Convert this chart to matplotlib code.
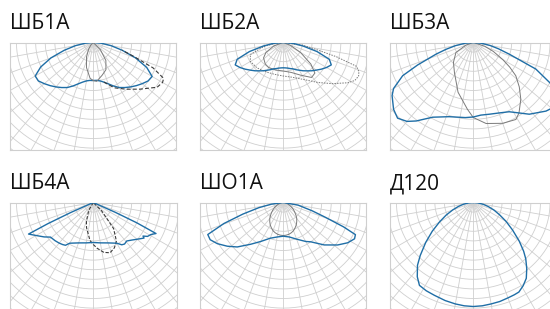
import numpy as np
import matplotlib
matplotlib.use('Agg')
import matplotlib.pyplot as plt

plt.rcParams['font.family'] = ['Open Sans', 'DejaVu Sans']

# Заголовки панелей
titles = ['ШБ1А', 'ШБ2А', 'ШБ3А', 'ШБ4А', 'ШО1А', 'Д120']

# ШБ1А
sb1_blue_ang = list(range(-90, 91, 5))
sb1_blue_r = [0, 8, 18, 30, 45, 58, 67, 67, 64, 61, 58, 55, 52, 48, 44, 41, 39, 38,
              38,
              38, 39, 41, 44, 48, 52, 55, 58, 61, 64, 67, 68, 59, 45, 30, 18, 8, 0]
sb1_gray_ang = [-50, -45, -35, -25, -15, -5, 0, 5, 15, 25, 35, 45, 52]
sb1_gray_r = [0, 3, 8, 16, 26, 36, 38, 39, 34, 30, 22, 10, 0]
sb1_dash_ang = [15, 25, 35, 45, 55, 60, 63, 67, 71, 75]
sb1_dash_r = [41, 50, 57, 66, 78, 80, 79, 65, 43, 30]

# ШБ2А
sb2_blue_ang = list(range(-90, 91, 5))
sb2_blue_r = [0, 10, 20, 35, 49, 53, 50, 46.5, 43, 40, 37, 34.5, 32, 30, 28, 27, 26, 25.5,
              25.3,
              25.5, 26, 27, 28, 30, 32, 34.5, 37, 40, 43, 46.5, 50, 53, 49, 35, 20, 10, 0]
sb2_gray_ang = [-75, -70, -60, -52, -40, -30, -15, 0, 15, 28, 39, 46, 52, 60, 68, 75]
sb2_gray_r = [0, 10, 20, 25, 28, 29, 28.5, 28.5, 31, 37, 45, 44, 35, 20, 8, 0]
sb2_dot_ang = [-90, -85, -78, -70, -60, -46, -30, -15, 0, 15, 30, 41, 50, 58, 62, 66,
               69, 72, 75, 78, 82, 90]
sb2_dot_r = [0, 8, 20, 35, 38, 36.5, 34, 33, 33.5, 36, 43, 53, 64, 76, 81, 82.5,
             81, 77, 55, 34, 20, 0]

# ШБ3А
sb3_blue_ang = [-90, -85, -80, -76, -72.6, -68, -64.8, -60, -56.8, -50, -45, -40, -36,
                -28.5, -18, -6, 0, 6, 12.6, 20, 27.4, 33, 38, 46.7, 52, 57, 62, 67,
                72, 76, 80, 85, 90]
sb3_blue_r = [0, 8, 18, 28, 39, 60, 78, 92, 97, 104, 107, 103, 97,
              85, 78, 75.5, 74.5, 73, 73.5, 75, 78, 84, 91, 100, 104, 100, 88, 68,
              38, 26, 17, 8, 0]
sb3_gray_ang = [-80, -70, -60, -45, -32, -17, -5, 0, 9, 20, 29, 33, 40, 46, 52, 56,
                60, 66, 72, 80]
sb3_gray_r = [0, 8, 20, 28, 35.5, 52, 67, 75, 82, 86, 88, 84, 74, 64, 54, 44,
              34, 22, 12, 0]

# ШБ4А
sb4_blue_ang = [-67, -66, -65, -64, -60, -55, -51, -45, -40, -36, -33, -30, -20, -10,
                0, 10, 20, 30, 34, 37, 41, 46, 52, 55, 56, 58, 61, 63.7, 65, 66, 67]
sb4_blue_r = [0, 25, 50, 72, 66, 60, 55, 54, 53, 52, 51, 47, 43, 41,
              40, 41, 43, 47, 51, 52, 51, 54, 59, 62, 60, 64, 66, 70, 48, 24, 0]
sb4_dash_ang = [-35, -30, -20, -15, -5, 0, 5, 12, 18.5, 25, 31, 38, 45, 50]
sb4_dash_r = [0, 9, 20, 26, 38, 42, 46, 51, 53, 50, 45, 33, 12, 0]

# ШО1А
so1_blue_ang = [-90, -82, -78, -74, -70.5, -67, -63, -58, -52, -46, -38, -30, -20, -10,
                0, 10, 20, 30, 35, 44, 52, 58, 63, 66, 68, 70.6, 74, 80, 90]
so1_blue_r = [0, 12, 25, 42, 63, 82, 82, 77.7, 71, 64, 53, 45, 38, 35,
              33.7, 35, 39, 45, 48, 59, 69, 76, 80, 79, 65, 45, 30, 15, 0]
so1_gray_ang = list(range(-90, 91, 5))
so1_gray_r = [0, 1, 2, 3.5, 5.5, 7.5, 10, 12.5, 15, 18, 21, 23.5, 26, 28, 30, 31.3,
              32.3, 32.8, 33, 32.8, 32.3, 31.3, 30, 28, 26, 23.5, 21, 18, 15, 12.5,
              10, 7.5, 5.5, 3.5, 2, 1, 0]

# Д120
d120_blue_ang = [-90, -85, -80, -75, -70, -65, -60, -55, -50, -45, -41.6, -37, -33, -28,
                 -22.8, -16, -10, -5, 0, 5, 10, 15, 20, 24, 27, 31, 35, 39, 43, 46,
                 50, 55, 60, 65, 70, 75, 80, 85, 90]
d120_blue_r = [0, 4.5, 10, 15.5, 22, 30, 39, 50, 62, 75, 84, 93, 98.8, 100,
               100.6, 102, 103, 103.7, 104, 103.7, 103, 102.5, 101.5, 101, 100.5, 97,
               92.5, 85, 77, 70, 60, 48, 38, 29, 22, 15.5, 10, 4.5, 0]

BLUE = '#1f6ea6'
GRAY = '#7a7a7a'
DARK = '#3a3a3a'
GRID = '#cfcfcf'

panels = [
    [(sb1_blue_ang, sb1_blue_r, BLUE, '-', 1.0),
     (sb1_gray_ang, sb1_gray_r, GRAY, '-', 0.7),
     (sb1_dash_ang, sb1_dash_r, DARK, (0, (3.5, 2)), 0.8)],
    [(sb2_dot_ang, sb2_dot_r, GRAY, (0, (1.5, 1.2)), 0.7),
     (sb2_gray_ang, sb2_gray_r, GRAY, '-', 0.7),
     (sb2_blue_ang, sb2_blue_r, BLUE, '-', 1.0)],
    [(sb3_gray_ang, sb3_gray_r, GRAY, '-', 0.7),
     (sb3_blue_ang, sb3_blue_r, BLUE, '-', 1.0)],
    [(sb4_dash_ang, sb4_dash_r, DARK, (0, (3, 1.5)), 0.8),
     (sb4_blue_ang, sb4_blue_r, BLUE, '-', 1.0)],
    [(so1_gray_ang, so1_gray_r, GRAY, '-', 0.7),
     (so1_blue_ang, so1_blue_r, BLUE, '-', 1.0)],
    [(d120_blue_ang, d120_blue_r, BLUE, '-', 1.0)],
]


def to_xy(ang, r):
    a = np.radians(np.asarray(ang, dtype=float))
    r = np.asarray(r, dtype=float)
    return r * np.sin(a), -r * np.cos(a)


def draw_grid(ax, step=9.6, n_rings=16):
    t = np.linspace(0, 2 * np.pi, 361)
    for k in range(1, n_rings + 1):
        ax.plot(step * k * np.cos(t), step * k * np.sin(t), color=GRID, lw=0.6, zorder=1)
    for a in range(-90, 91, 10):
        x, y = to_xy([a, a], [0, 200])
        ax.plot(x, y, color=GRID, lw=0.6, zorder=1)


W, H = 550, 309
fig = plt.figure(figsize=(W / 100, H / 100), dpi=100)

lefts = [10, 200, 390]
tops = [42.5, 202.5]
pw, ph = 166.5, 107.5

for i, curves in enumerate(panels):
    row, col = divmod(i, 3)
    x0, y0 = lefts[col], tops[row]
    ax = fig.add_axes([x0 / W, 1 - (y0 + ph) / H, pw / W, ph / H])
    draw_grid(ax)
    for ang, r, color, ls, lw in curves:
        x, y = to_xy(ang, r)
        ax.plot(x, y, color=color, ls=ls, lw=lw, zorder=3)
    ax.set_xlim(-pw / 2, pw / 2)
    ax.set_ylim(-ph, 0)
    ax.set_aspect('equal')
    ax.set_xticks([])
    ax.set_yticks([])
    for s in ax.spines.values():
        s.set_color(GRID)
        s.set_linewidth(0.8)
    fig.text(x0 / W, 1 - (y0 - 13.5) / H, titles[i], fontsize=15,
             color='#111111', ha='left', va='baseline')

fig.savefig('out.png', dpi=100)
